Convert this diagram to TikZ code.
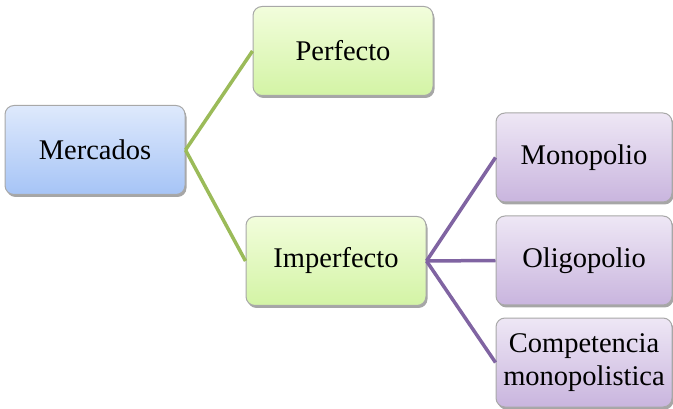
\documentclass[tikz,border=0pt]{standalone}
\usepackage{fontspec}
\setmainfont{Liberation Serif}
\usetikzlibrary{shadows}
\definecolor{bluetop}{HTML}{DEE9FC}
\definecolor{bluebot}{HTML}{A6C4F6}
\definecolor{greentop}{HTML}{F2FDDC}
\definecolor{greenbot}{HTML}{D3F4A5}
\definecolor{purptop}{HTML}{EEE7F5}
\definecolor{purpbot}{HTML}{C9B5DE}
\definecolor{greenline}{HTML}{9BBB59}
\definecolor{purpline}{HTML}{8064A2}
\definecolor{boxborder}{HTML}{A8A8A8}
\tikzset{
  box/.style={draw=boxborder, line width=1pt, rounded corners=9pt, minimum width=180pt, minimum height=89pt,
    align=center, inner sep=2pt, font=\fontsize{28.5}{33}\selectfont,
    drop shadow={shadow xshift=1.5pt, shadow yshift=-2.5pt, opacity=0.35, fill=black}},
  bluebox/.style={box, top color=bluetop, bottom color=bluebot},
  greenbox/.style={box, top color=greentop, bottom color=greenbot},
  purpbox/.style={box, top color=purptop, bottom color=purpbot, minimum width=176pt},
  gconn/.style={draw=greenline, line width=3.5pt},
  pconn/.style={draw=purpline, line width=3.5pt},
}
\begin{document}
\begin{tikzpicture}[x=1pt,y=-1pt]
\useasboundingbox (0,0) rectangle (673,409);
\node[bluebox] (merc) at (95,150) {Mercados};
\node[greenbox] (perf) at (343,51) {Perfecto};
\node[greenbox] (imp) at (336,261) {Imperfecto};
\node[purpbox] (mono) at (584,157.5) {Monopolio};
\node[purpbox] (olig) at (584,260.5) {Oligopolio};
\node[purpbox] (comp) at (584,362.5) {Competencia\\monopolistica};
\draw[gconn] (merc.east) -- (perf.west);
\draw[gconn] (merc.east) -- (imp.west);
\draw[pconn] (imp.east) -- (mono.west);
\draw[pconn] (imp.east) -- (olig.west);
\draw[pconn] (imp.east) -- (comp.west);
\end{tikzpicture}
\end{document}
